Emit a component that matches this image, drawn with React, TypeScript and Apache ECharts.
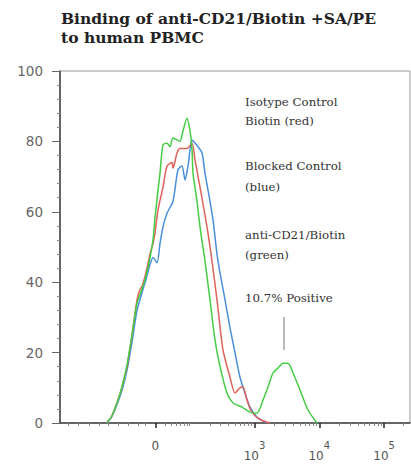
import React, { useEffect, useRef } from "react";
import * as echarts from "echarts";

// x positions are in display decades (biexponential scale): 0 at 1.47, 10^3 at 3, 10^4 at 4, 10^5 at 5
const redX = [0.72, 0.8, 0.895, 0.96, 1.034, 1.111, 1.188, 1.235, 1.265, 1.33, 1.389, 1.435, 1.466, 1.512, 1.589, 1.651, 1.728, 1.743, 1.805, 1.851, 1.959, 2.037, 2.083, 2.16, 2.268, 2.345, 2.422, 2.515, 2.623, 2.7, 2.777, 2.823, 2.885, 2.962, 3.086, 3.24];
const redY = [0, 2, 6.5, 10.5, 16, 25, 35, 38, 38.8, 43, 48, 51, 54, 60.5, 67, 73, 74, 72.4, 76.7, 78, 78, 79.5, 74.7, 67, 55.7, 46, 35, 20.7, 13, 8.5, 10, 10.2, 6.5, 3, 1, 0];

const blueX = [0.72, 0.8, 0.895, 0.96, 1.034, 1.111, 1.188, 1.265, 1.33, 1.389, 1.435, 1.497, 1.543, 1.589, 1.651, 1.743, 1.821, 1.882, 1.929, 1.975, 2.037, 2.083, 2.129, 2.191, 2.237, 2.314, 2.361, 2.422, 2.469, 2.546, 2.623, 2.7, 2.777, 2.854, 2.931, 3.039, 3.194];
const blueY = [0, 1.8, 6, 9.5, 15, 23, 32, 37, 41, 45, 47, 45.5, 51, 55.7, 59.6, 63, 72, 73, 69, 73, 80.4, 79.5, 78.5, 76.7, 71, 63, 57.7, 48, 42.6, 35, 27, 20, 13, 8.5, 4.5, 1.7, 0];

const greenX = [0.72, 0.8, 0.895, 0.96, 1.034, 1.111, 1.188, 1.265, 1.33, 1.389, 1.435, 1.466, 1.543, 1.589, 1.651, 1.697, 1.743, 1.851, 1.898, 1.959, 2.006, 2.037, 2.052, 2.114, 2.16, 2.237, 2.314, 2.391, 2.469, 2.577, 2.669, 2.808, 2.931, 3.039, 3.132, 3.209, 3.286, 3.363, 3.441, 3.518, 3.595, 3.703, 3.826, 3.965];
const greenY = [0, 2, 6.5, 10.5, 16.5, 25, 34, 38, 42, 47, 52, 58.5, 71, 79, 79.5, 78.5, 81, 80, 83, 86.6, 83, 77.6, 71, 63, 55.7, 46, 35, 23.6, 16, 8.5, 5.7, 4.5, 3.1, 2.8, 6.5, 10.2, 14.2, 15.6, 17, 17, 14.2, 9.4, 3.7, 0];

const xTickValues = [1.47, 3, 4, 5];
const xTickLabels = ["0", "3", "4", "5"];
const xMinorTicks = [0.12, 0.28, 0.45, 0.6, 0.75, 0.9, 1.05, 1.2, 1.32, 1.62, 1.72, 1.8, 1.86, 1.91, 1.96, 2.0, 2.32, 2.48, 2.6, 2.7, 2.78, 2.85, 2.9, 2.95, 3.301, 3.477, 3.602, 3.699, 3.778, 3.845, 3.903, 3.954, 4.301, 4.477, 4.602, 4.699, 4.778, 4.845, 4.903, 4.954, 5.301];

const titleText = "Binding of anti-CD21/Biotin +SA/PE\nto human PBMC";
const notes = [
  { text: "Isotype Control", y: 104 },
  { text: "Biotin (red)", y: 123 },
  { text: "Blocked Control", y: 168 },
  { text: "(blue)", y: 189 },
  { text: "anti-CD21/Biotin", y: 237 },
  { text: "(green)", y: 257 },
  { text: "10.7% Positive", y: 300 },
];

const zip = (xs: number[], ys: number[]) => xs.map((x, i) => [x, ys[i]]);

export default function App() {
  const ref = useRef<HTMLDivElement>(null);
  useEffect(() => {
    const chart = echarts.init(ref.current!, null, { renderer: "svg" });
    const lineSeries = (name: string, xs: number[], ys: number[], color: string, z: number) => ({
      name,
      type: "line",
      data: zip(xs, ys),
      showSymbol: false,
      smooth: 0.25,
      z,
      lineStyle: { color, width: 1.5 },
    });
    chart.setOption({
      animation: false,
      backgroundColor: "#fff",
      title: {
        text: titleText,
        left: 56,
        top: 4,
        textStyle: { fontFamily: "DejaVu Serif", fontWeight: "bold", fontSize: 15.5, lineHeight: 19, color: "#222" },
      },
      grid: { left: 60, right: 1, top: 71, bottom: 46, show: true, borderColor: "#999", borderWidth: 1 },
      xAxis: [
        {
          type: "value",
          min: 0,
          max: 5.4,
          axisLine: { show: true, lineStyle: { color: "#444", width: 1.5 } },
          splitLine: { show: false },
          axisTick: { show: true, customValues: xTickValues, length: 5, lineStyle: { color: "#222", width: 1.5 } },
          axisLabel: {
            customValues: xTickValues,
            margin: 17,
            verticalAlign: "top",
            formatter: (v: number) => {
              const i = xTickValues.findIndex((t) => Math.abs(t - v) < 1e-6);
              if (i < 0) return "";
              if (i === 0) return "{z|0}";
              return "{b|10}{s|" + xTickLabels[i] + "}";
            },
            rich: {
              z: { fontFamily: "DejaVu Sans", fontSize: 12, color: "#555", lineHeight: 22, verticalAlign: "top" },
              b: { fontFamily: "DejaVu Sans", fontSize: 12, color: "#555", lineHeight: 22, verticalAlign: "bottom" },
              s: { fontFamily: "DejaVu Sans", fontSize: 10, color: "#555", lineHeight: 22, verticalAlign: "top" },
            },
          },
        },
        {
          type: "value",
          min: 0,
          max: 5.4,
          position: "bottom",
          axisLine: { show: false },
          splitLine: { show: false },
          axisLabel: { show: false },
          axisTick: { show: true, customValues: xMinorTicks, length: 3, lineStyle: { color: "#888", width: 1 } },
        },
      ],
      yAxis: {
        type: "value",
        min: 0,
        max: 100,
        interval: 20,
        axisLine: { show: true, lineStyle: { color: "#444", width: 1.5 } },
        splitLine: { show: false },
        axisTick: { show: true, length: 8, lineStyle: { color: "#666" } },
        minorTick: { show: true, splitNumber: 5, length: 3, lineStyle: { color: "#888" } },
        axisLabel: { margin: 17, fontFamily: "DejaVu Sans", fontSize: 13.5, color: "#666" },
      },
      series: [
        lineSeries("Blocked Control", blueX, blueY, "#4a8fdc", 3),
        lineSeries("Isotype Control", redX, redY, "#e0605a", 4),
        lineSeries("anti-CD21/Biotin", greenX, greenY, "#45cc45", 5),
      ],
      graphic: [
        ...notes.map((n) => ({
          type: "text",
          left: 245,
          top: n.y - 8,
          style: { text: n.text, fontFamily: "DejaVu Serif", fontSize: 11.8, fill: "#333" },
        })),
        {
          type: "line",
          shape: { x1: 284, y1: 317, x2: 284, y2: 350 },
          style: { stroke: "#777", lineWidth: 1 },
        },
      ],
    });
    return () => chart.dispose();
  }, []);
  return <div ref={ref} style={{ position: "absolute", left: 0, top: 0, width: 411, height: 469 }} />;
}
